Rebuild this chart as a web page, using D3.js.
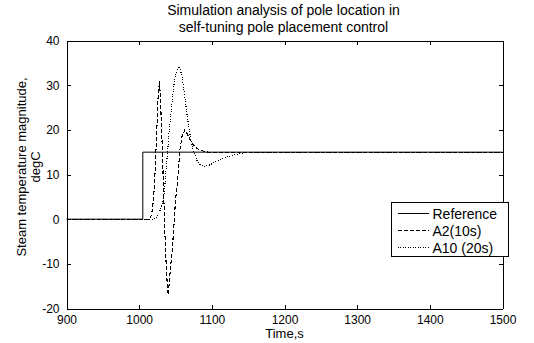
<!DOCTYPE html>
<html><head><meta charset="utf-8">
<script src="https://cdn.jsdelivr.net/npm/d3@7/dist/d3.min.js"></script>
<style>body{margin:0;background:#fff}svg{display:block}text{font-family:"Liberation Sans",Arial,sans-serif;fill:#000}</style>
</head><body><svg id="c" width="534" height="343"></svg>
<script>
const titleLines = ["Simulation analysis of pole location in", "self-tuning pole placement control"];
const xLabel = "Time,s";
const yLabelLines = ["Steam temperature magnitude,", "degC"];
const xTicks = [900, 1000, 1100, 1200, 1300, 1400, 1500];
const yTicks = [-20, -10, 0, 10, 20, 30, 40];
const seriesNames = ["Reference", "A2(10s)", "A10 (20s)"];
const refT = [900, 1005, 1005, 1500];
const refV = [0, 0, 15, 15];
const a2T = [900, 1014, 1016, 1018, 1020, 1022, 1024, 1026, 1028, 1030, 1032, 1034, 1036, 1038, 1040, 1043, 1045.5, 1048, 1050, 1052, 1054, 1056, 1059, 1063, 1067, 1071, 1075, 1080, 1087, 1095, 1500];
const a2V = [0, 0, 0.5, 2, 5, 11, 19, 27, 31, 24, 15, 4.2, -6, -13, -17, -11, -7, -1, 4.2, 7, 11, 15.5, 18.5, 20, 18.8, 17.5, 16.5, 15.8, 15.3, 15, 15];
const a10T = [900, 1018, 1025, 1030, 1034, 1036, 1038, 1041, 1044, 1047, 1050, 1055, 1059, 1063, 1067, 1071, 1075, 1080, 1085, 1089, 1095, 1100, 1110, 1120, 1130, 1142, 1155, 1500];
const a10V = [0, 0, 0.5, 2.5, 5, 9, 13, 19, 24, 29, 32.5, 34.2, 32, 27, 22, 18, 15, 13, 12, 11.8, 12, 12.4, 13.2, 13.9, 14.4, 14.8, 15, 15];

const svg = d3.select("#c");
const L = 66.5, R = 502.5, T = 40.5, B = 308.5;
const x = d3.scaleLinear().domain([900, 1500]).range([L, R]);
const y = d3.scaleLinear().domain([-20, 40]).range([B, T]);

// title
titleLines.forEach((t, i) => svg.append("text").attr("x", (L + R) / 2 - 1).attr("y", 15 + i * 17)
  .attr("text-anchor", "middle").attr("font-size", 14).text(t));

// axes
const tl = 4;
const fmt = d => String(d);
svg.append("g").attr("transform", `translate(0,${B})`)
  .call(d3.axisBottom(x).tickValues(xTicks).tickFormat(fmt).tickSizeInner(-tl).tickSizeOuter(0).tickPadding(7));
svg.append("g").attr("transform", `translate(0,${T})`)
  .call(d3.axisTop(x).tickValues(xTicks).tickFormat("").tickSizeInner(-tl).tickSizeOuter(0));
svg.append("g").attr("transform", `translate(${L},0)`)
  .call(d3.axisLeft(y).tickValues(yTicks).tickFormat(fmt).tickSizeInner(-tl).tickSizeOuter(0).tickPadding(7));
svg.append("g").attr("transform", `translate(${R},0)`)
  .call(d3.axisRight(y).tickValues(yTicks).tickFormat("").tickSizeInner(-tl).tickSizeOuter(0));
svg.selectAll(".domain").attr("stroke", "#000").attr("shape-rendering", "crispEdges");
svg.selectAll(".tick line").attr("stroke", "#000").attr("shape-rendering", "crispEdges");
svg.selectAll(".tick text").attr("font-size", 12).attr("font-family", '"Liberation Sans",Arial,sans-serif');

// labels
svg.append("text").attr("x", (L + R) / 2).attr("y", 338).attr("text-anchor", "middle").attr("font-size", 13).text(xLabel);
yLabelLines.forEach((t, i) => svg.append("text").attr("transform", `translate(${26 + i * 14},167) rotate(-90)`)
  .attr("text-anchor", "middle").attr("font-size", 13).text(t));

// lines
const line = d3.line().x(d => x(d[0])).y(d => y(d[1]));
const series = [
  {t: refT, v: refV, dash: null, w: 1},
  {t: a2T, v: a2V, dash: "4,2", w: 1.1},
  {t: a10T, v: a10V, dash: "1,1.5", w: 1.1}
];
const plot = svg.append("g");
series.forEach(s => {
  plot.append("path").datum(s.t.map((t, i) => [t, s.v[i]])).attr("d", line)
    .attr("fill", "none").attr("stroke", "#000").attr("stroke-width", s.w)
    .attr("stroke-dasharray", s.dash).attr("shape-rendering", s.dash ? "crispEdges" : "auto");
});

// legend
const lg = svg.append("g").attr("transform", "translate(391.5,202.5)");
lg.append("rect").attr("width", 117).attr("height", 54).attr("fill", "#fff").attr("stroke", "#000").attr("shape-rendering", "crispEdges");
series.forEach((s, i) => {
  const yy = 11 + i * 17;
  lg.append("line").attr("x1", 6).attr("x2", 37).attr("y1", yy).attr("y2", yy)
    .attr("stroke", "#000").attr("stroke-width", s.dash === "4,2" ? 1.6 : 1).attr("stroke-dasharray", s.dash)
    .attr("shape-rendering", "crispEdges");
  lg.append("text").attr("x", 41).attr("y", yy + 5).attr("font-size", 14).text(seriesNames[i]);
});
</script></body></html>
